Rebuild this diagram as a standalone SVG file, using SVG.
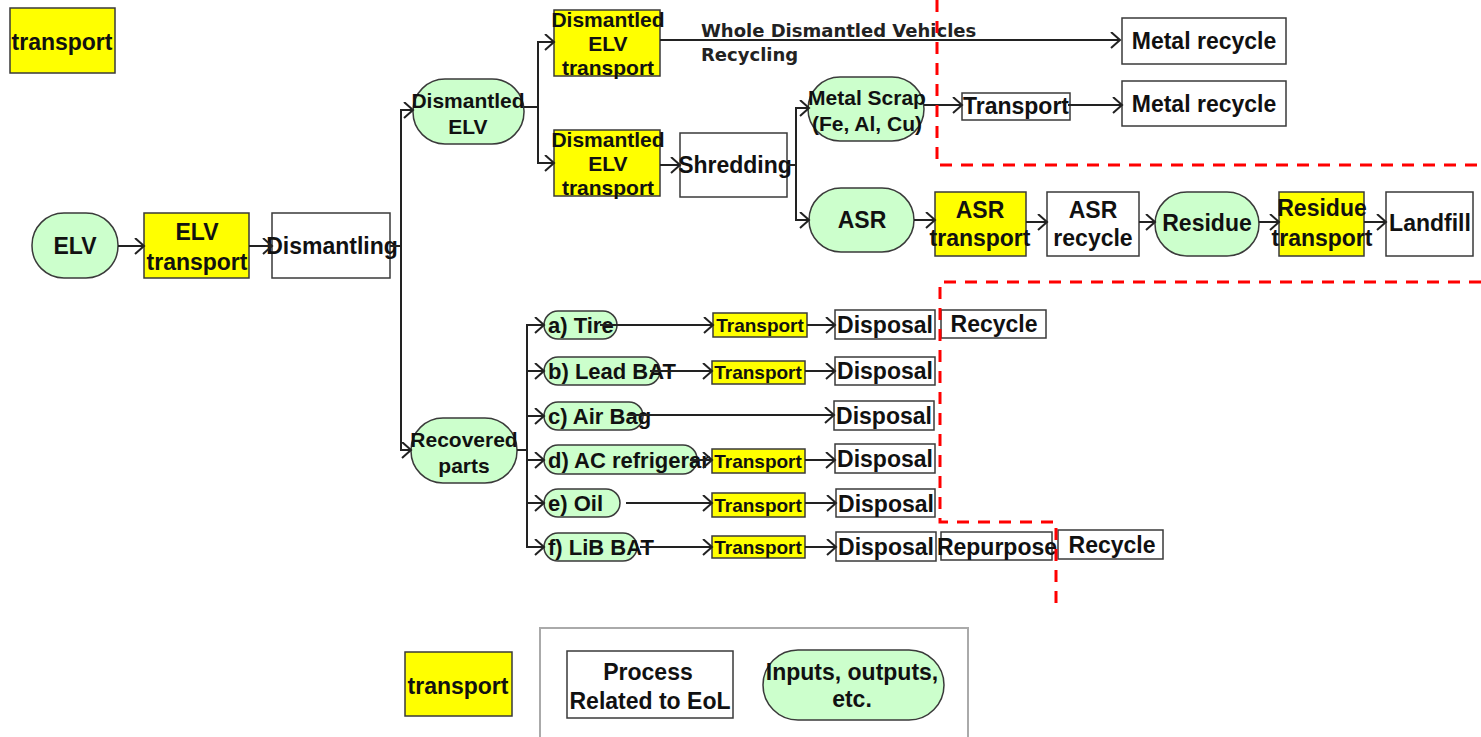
<svg xmlns="http://www.w3.org/2000/svg" width="1481" height="737" viewBox="0 0 1481 737">
<defs>
<style>
.y{fill:#ffff00;stroke:#3a3a3a;stroke-width:1.5}
.w{fill:#ffffff;stroke:#3a3a3a;stroke-width:1.5}
.g{fill:#ccffcc;stroke:#3a3a3a;stroke-width:1.5}
text{font-family:"Liberation Sans",Arial,sans-serif;font-weight:bold;fill:#111;text-anchor:middle}
.t23{font-size:23px}
.t22{font-size:22px}
.t21{font-size:21px}
.t19{font-size:19px}
.lbl{font-family:"DejaVu Sans",Verdana,sans-serif;font-size:18px;text-anchor:start;fill:#222}
.st{text-anchor:start}
.c line,.c path{stroke:#222;stroke-width:2;fill:none}
.a{marker-end:url(#ah)}
.red{stroke:#ff0000;stroke-width:3;fill:none;stroke-dasharray:12 9}
</style>
<marker id="ah" markerUnits="userSpaceOnUse" markerWidth="12" markerHeight="18" refX="10" refY="8" orient="auto">
<path d="M1,0 L10,8 L1,16" fill="none" stroke="#222" stroke-width="2"/>
</marker>
</defs>
<rect width="1481" height="737" fill="#ffffff"/>

<g id="legend-top-transport"><rect class="y" x="10" y="8" width="105" height="65"/><text class="t23" x="62" y="50">transport</text></g>

<g id="elv"><rect class="g" x="32" y="213" width="86" height="65" rx="32" ry="32"/><text class="t23" x="75" y="254">ELV</text></g>
<g id="elv-transport"><rect class="y" x="144" y="213" width="105" height="65"/><text class="t23" x="197" y="240">ELV</text><text class="t23" x="197" y="270">transport</text></g>
<g id="dismantling"><rect class="w" x="272" y="213" width="118" height="65"/><text class="t23" x="332" y="254">Dismantling</text></g>

<g id="dismantled-elv"><rect class="g" x="413" y="79" width="111" height="65" rx="32" ry="32"/><text class="t21" x="468" y="108">Dismantled</text><text class="t21" x="468" y="134">ELV</text></g>
<g id="delv-transport-1"><rect class="y" x="554" y="10" width="106" height="66"/><text class="t21" x="608" y="27">Dismantled</text><text class="t21" x="608" y="51">ELV</text><text class="t21" x="608" y="75">transport</text></g>
<g id="delv-transport-2"><rect class="y" x="554" y="130" width="106" height="66"/><text class="t21" x="608" y="147">Dismantled</text><text class="t21" x="608" y="171">ELV</text><text class="t21" x="608" y="195">transport</text></g>
<g id="shredding"><rect class="w" x="680" y="133" width="107" height="64"/><text class="t23" x="735" y="173">Shredding</text></g>

<g id="metal-recycle-1"><rect class="w" x="1122" y="18" width="164" height="46"/><text class="t23" x="1204" y="49">Metal recycle</text></g>
<g id="metal-scrap"><rect class="g" x="808" y="77" width="116" height="64" rx="32" ry="32"/><text class="t21" x="867" y="105">Metal Scrap</text><text class="t21" x="867" y="131">(Fe, Al, Cu)</text></g>
<g id="transport-metal"><rect class="w" x="962" y="93" width="108" height="27"/><text class="t23" x="1016" y="114">Transport</text></g>
<g id="metal-recycle-2"><rect class="w" x="1122" y="81" width="164" height="45"/><text class="t23" x="1204" y="112">Metal recycle</text></g>

<g id="asr"><rect class="g" x="809" y="188" width="105" height="64" rx="32" ry="32"/><text class="t23" x="862" y="228">ASR</text></g>
<g id="asr-transport"><rect class="y" x="935" y="192" width="91" height="64"/><text class="t23" x="980" y="218">ASR</text><text class="t23" x="980" y="246">transport</text></g>
<g id="asr-recycle"><rect class="w" x="1047" y="192" width="92" height="64"/><text class="t23" x="1093" y="218">ASR</text><text class="t23" x="1093" y="246">recycle</text></g>
<g id="residue"><rect class="g" x="1155" y="192" width="104" height="64" rx="32" ry="32"/><text class="t23" x="1207" y="231">Residue</text></g>
<g id="residue-transport"><rect class="y" x="1279" y="192" width="85" height="64"/><text class="t23" x="1322" y="216">Residue</text><text class="t23" x="1322" y="246">transport</text></g>
<g id="landfill"><rect class="w" x="1386" y="192" width="87" height="64"/><text class="t23" x="1430" y="231">Landfill</text></g>

<g id="recovered-parts"><rect class="g" x="411" y="418" width="106" height="65" rx="32" ry="32"/><text class="t21" x="464" y="447">Recovered</text><text class="t21" x="464" y="473">parts</text></g>

<g id="item-a"><rect class="g" x="544" y="311" width="73" height="28" rx="14" ry="14"/><text class="t22 st" x="548" y="333">a) Tire</text></g>
<g id="item-b"><rect class="g" x="544" y="357" width="116" height="28" rx="14" ry="14"/><text class="t22 st" x="548" y="379">b) Lead BAT</text></g>
<g id="item-c"><rect class="g" x="544" y="402" width="99" height="28" rx="14" ry="14"/><text class="t22 st" x="548" y="424">c) Air Bag</text></g>
<g id="item-d"><rect class="g" x="544" y="445" width="153" height="29" rx="14" ry="14"/><text class="t22 st" x="548" y="468">d) AC refrigerar</text></g>
<g id="item-e"><rect class="g" x="544" y="489" width="76" height="28" rx="14" ry="14"/><text class="t22 st" x="548" y="511">e) Oil</text></g>
<g id="item-f"><rect class="g" x="544" y="533" width="93" height="28" rx="14" ry="14"/><text class="t22 st" x="548" y="555">f) LiB BAT</text></g>

<g id="transport-a"><rect class="y" x="713" y="313" width="94" height="24"/><text class="t19" x="760" y="332">Transport</text></g>
<g id="transport-b"><rect class="y" x="712" y="361" width="93" height="23"/><text class="t19" x="758" y="379">Transport</text></g>
<g id="transport-d"><rect class="y" x="712" y="449" width="93" height="24"/><text class="t19" x="758" y="468">Transport</text></g>
<g id="transport-e"><rect class="y" x="712" y="493" width="93" height="24"/><text class="t19" x="758" y="512">Transport</text></g>
<g id="transport-f"><rect class="y" x="712" y="536" width="93" height="22"/><text class="t19" x="758" y="554">Transport</text></g>

<g id="disposal-a"><rect class="w" x="835" y="310" width="100" height="29"/><text class="t23" x="885" y="333">Disposal</text></g>
<g id="disposal-b"><rect class="w" x="835" y="357" width="100" height="28"/><text class="t23" x="885" y="379">Disposal</text></g>
<g id="disposal-c"><rect class="w" x="834" y="401" width="100" height="29"/><text class="t23" x="884" y="424">Disposal</text></g>
<g id="disposal-d"><rect class="w" x="835" y="444" width="100" height="29"/><text class="t23" x="885" y="467">Disposal</text></g>
<g id="disposal-e"><rect class="w" x="836" y="489" width="99" height="28"/><text class="t23" x="886" y="512">Disposal</text></g>
<g id="disposal-f"><rect class="w" x="836" y="532" width="100" height="29"/><text class="t23" x="886" y="555">Disposal</text></g>
<g id="recycle-a"><rect class="w" x="941" y="310" width="105" height="28"/><text class="t23" x="994" y="332">Recycle</text></g>
<g id="repurpose-f"><rect class="w" x="941" y="532" width="111" height="28"/><text class="t23" x="997" y="555">Repurpose</text></g>
<g id="recycle-f"><rect class="w" x="1058" y="530" width="105" height="29"/><text class="t23" x="1112" y="553">Recycle</text></g>

<g id="legend">
<rect x="540" y="628" width="428" height="120" fill="none" stroke="#aaaaaa" stroke-width="2"/>
<g id="legend-transport"><rect class="y" x="405" y="652" width="107" height="64"/><text class="t23" x="458" y="694">transport</text></g>
<g id="legend-process"><rect class="w" x="567" y="651" width="166" height="67"/><text class="t23" x="648" y="680">Process</text><text class="t23" x="650" y="709">Related to EoL</text></g>
<g id="legend-inputs"><rect class="g" x="763" y="650" width="181" height="70" rx="35" ry="35"/><text class="t23" x="852" y="680">Inputs, outputs,</text><text class="t23" x="852" y="707">etc.</text></g>
</g>

<g id="connectors" class="c">
<line class="a" x1="118" y1="246" x2="144" y2="246"/>
<line class="a" x1="249" y1="246" x2="272" y2="246"/>
<line x1="390" y1="246" x2="401" y2="246"/>
<path d="M401,450 V110"/>
<line class="a" x1="400" y1="110" x2="413" y2="110"/>
<line class="a" x1="400" y1="450" x2="411" y2="450"/>
<line x1="524" y1="107" x2="538" y2="107"/>
<path d="M538,42 V163"/>
<line class="a" x1="537" y1="42" x2="554" y2="42"/>
<line class="a" x1="537" y1="163" x2="554" y2="163"/>
<line class="a" x1="660" y1="40" x2="1120" y2="40"/>
<line class="a" x1="660" y1="165" x2="680" y2="165"/>
<line x1="787" y1="165" x2="796" y2="165"/>
<path d="M796,108 V220"/>
<line class="a" x1="795" y1="108" x2="809" y2="108"/>
<line class="a" x1="795" y1="220" x2="809" y2="220"/>
<line class="a" x1="924" y1="105" x2="962" y2="105"/>
<line class="a" x1="1068" y1="105" x2="1122" y2="105"/>
<line class="a" x1="914" y1="220" x2="935" y2="220"/>
<line class="a" x1="1026" y1="222" x2="1047" y2="222"/>
<line class="a" x1="1139" y1="222" x2="1155" y2="222"/>
<line class="a" x1="1259" y1="222" x2="1279" y2="222"/>
<line class="a" x1="1364" y1="222" x2="1386" y2="222"/>
<line x1="517" y1="450" x2="527" y2="450"/>
<path d="M527,325 V548"/>
<line class="a" x1="526" y1="325" x2="544" y2="325"/>
<line class="a" x1="526" y1="371" x2="544" y2="371"/>
<line class="a" x1="526" y1="416" x2="544" y2="416"/>
<line class="a" x1="526" y1="460" x2="544" y2="460"/>
<line class="a" x1="526" y1="503" x2="544" y2="503"/>
<line class="a" x1="526" y1="547" x2="544" y2="547"/>
<line class="a" x1="600" y1="325" x2="713" y2="325"/>
<line class="a" x1="650" y1="371" x2="712" y2="371"/>
<line class="a" x1="628" y1="415" x2="834" y2="415"/>
<line class="a" x1="690" y1="460" x2="712" y2="460"/>
<line class="a" x1="626" y1="503" x2="712" y2="503"/>
<line class="a" x1="640" y1="547" x2="712" y2="547"/>
<line class="a" x1="807" y1="325" x2="835" y2="325"/>
<line class="a" x1="805" y1="371" x2="835" y2="371"/>
<line class="a" x1="805" y1="460" x2="835" y2="460"/>
<line class="a" x1="805" y1="503" x2="836" y2="503"/>
<line class="a" x1="805" y1="547" x2="836" y2="547"/>
</g>

<g id="labels"><text class="lbl" x="701" y="37">Whole Dismantled Vehicles</text><text class="lbl" x="701" y="61">Recycling</text></g>

<g id="boundaries">
<path class="red" d="M937,0 V165 H1481"/>
<path class="red" d="M1481,282 H940 V522 H1056 V610"/>
</g>
</svg>
